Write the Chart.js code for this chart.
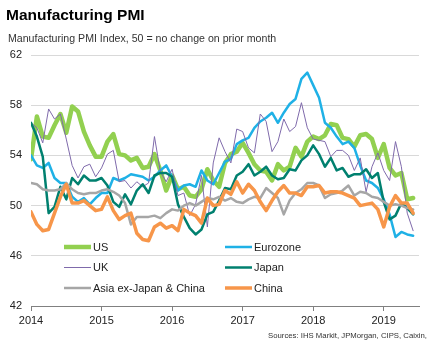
<!DOCTYPE html>
<html lang="en">
<head>
  <meta charset="UTF-8">
  <title>Manufacturing PMI</title>
  <script src="https://cdn.jsdelivr.net/npm/chart.js"></script>
  <style>
    body { margin: 0; background: #fff; font-family: "Liberation Sans", Arial, sans-serif; }
    #wrap { position: relative; width: 435px; height: 346px; }
    #title { position: absolute; left: 6px; top: 6px; font-size: 15.5px; font-weight: bold; color: #000; }
    #subtitle { position: absolute; left: 8px; top: 32px; font-size: 10.6px; color: #333; }
    #source { position: absolute; right: 8px; top: 331px; font-size: 7.75px; color: #333; }
    canvas { position: absolute; left: 0; top: 0; }
  </style>
</head>
<body>
  <div id="wrap">
    <canvas id="pmiChart" width="435" height="346"></canvas>
    <div id="title">Manufacturing PMI</div>
    <div id="subtitle">Manufacturing PMI Index, 50 = no change on prior month</div>
    <div id="source">Sources: IHS Markit, JPMorgan, CIPS, Caixin,</div>
  </div>

  <script>
    // monthly readings, Jan 2014 - Jun 2019
    const yearLabels = ['2014', '2015', '2016', '2017', '2018', '2019'];

    const us = [53.7,57.1,55.5,55.4,56.4,57.3,55.8,57.9,57.5,55.9,54.8,53.9,
                53.9,55.1,55.7,54.1,54.0,53.6,53.8,53.0,53.1,54.1,52.8,51.2,
                52.4,51.3,51.5,50.8,50.7,51.3,52.9,52.0,51.5,53.4,54.1,54.3,
                55.0,54.2,53.3,52.8,52.7,52.0,53.3,52.8,53.1,54.6,53.9,55.1,
                55.5,55.3,55.6,56.5,56.4,55.4,55.3,54.7,55.6,55.7,55.3,53.8,
                54.9,53.0,52.4,52.6,50.5,50.6];
    const eurozone = [54.0,53.2,53.0,53.4,52.2,51.8,51.8,50.7,50.3,50.6,50.1,50.6,
                51.0,51.0,52.2,52.0,52.2,52.5,52.4,52.3,52.0,52.3,52.8,53.2,
                52.3,51.2,51.6,51.7,51.5,52.8,52.0,51.7,52.6,53.5,53.7,54.9,
                55.2,55.4,56.2,56.7,57.0,57.4,56.6,57.4,58.1,58.5,60.1,60.6,
                59.6,58.6,56.6,56.2,55.5,54.9,55.1,54.6,53.2,52.0,51.8,51.4,
                50.5,49.3,47.5,47.9,47.7,47.6];
    const uk = [56.6,56.2,55.0,57.7,56.9,57.3,55.3,53.2,52.2,53.1,53.3,52.3,
                53.0,54.1,54.4,51.9,52.0,51.4,51.9,51.5,51.8,55.5,52.7,51.9,
                52.9,50.8,51.0,49.2,50.1,52.4,48.3,53.4,55.4,54.3,53.4,56.1,
                55.9,54.6,54.2,57.3,56.7,54.3,55.1,56.9,55.9,56.3,58.2,56.2,
                55.3,55.2,55.1,53.9,54.4,54.4,54.0,52.8,53.8,51.1,53.1,54.2,
                52.8,52.0,55.1,53.1,49.4,48.0];
    const japan = [56.6,55.5,53.9,49.4,49.9,51.5,50.5,52.2,51.7,52.4,52.0,52.0,
                52.2,51.6,50.3,49.9,50.9,50.1,51.2,51.7,51.0,52.4,52.6,52.6,
                52.3,50.1,49.1,48.2,47.7,48.1,49.3,49.5,50.4,51.4,51.3,52.4,
                52.7,53.3,52.4,52.7,53.1,52.4,52.1,52.2,52.9,52.8,53.6,54.0,
                54.8,54.1,53.1,53.8,52.8,53.0,52.3,52.5,52.5,52.9,52.2,52.6,
                50.3,48.9,49.2,50.2,49.8,49.3];
    const asiaExJC = [51.8,51.7,51.3,51.2,51.2,51.3,51.8,51.3,51.0,50.9,51.0,51.0,
                51.2,51.3,51.1,50.8,50.2,48.5,49.1,49.1,49.1,49.2,49.0,49.4,
                49.7,49.6,50.0,50.2,50.0,50.3,50.6,50.5,50.7,50.4,50.6,50.3,
                50.2,50.5,50.7,50.6,51.4,51.0,50.6,49.3,50.4,51.0,51.3,51.8,
                51.8,51.6,50.6,50.9,51.0,51.2,51.6,50.8,51.1,51.0,50.7,50.6,
                50.3,50.0,50.1,50.0,49.8,49.7];
    const china = [49.5,48.5,48.0,48.1,49.4,50.7,51.7,50.2,50.2,50.4,50.0,49.6,
                49.7,50.7,49.6,48.9,49.2,49.4,47.8,47.3,47.2,48.3,48.6,48.2,
                48.4,48.0,49.7,49.4,49.2,48.6,50.6,50.0,50.1,51.2,50.9,51.9,
                51.0,51.7,51.2,50.3,49.6,50.4,51.1,51.6,51.0,51.0,50.8,51.5,
                51.5,51.6,51.0,51.1,51.1,51.0,50.8,50.6,50.0,50.1,50.2,49.7,
                48.3,49.9,50.8,50.2,50.2,49.4];

    const seriesNames = ['US', 'Eurozone', 'UK', 'Japan', 'Asia ex-Japan & China', 'China'];
    const seriesData = [us, eurozone, uk, japan, asiaExJC, china];
    const seriesColors = ['#92d050', '#1fb1e6', '#7f6aab', '#00806f', '#a6a6a6', '#f7964a'];
    const seriesWidths = [4.5, 2.5, 1, 2.5, 2.5, 3.5];

    Chart.defaults.font.family = '"Liberation Sans", Arial, sans-serif';
    Chart.defaults.color = '#222';

    // legend sits inside the plot, two columns
    const insideLegend = {
      id: 'insideLegend',
      afterDatasetsDraw(chart) {
        const ctx = chart.ctx;
        ctx.save();
        ctx.font = '11px "Liberation Sans", Arial, sans-serif';
        ctx.textBaseline = 'middle';
        chart.data.datasets.forEach((ds, i) => {
          const x = i % 2 ? 225 : 64;
          const y = 247 + Math.floor(i / 2) * 20.5;
          ctx.strokeStyle = ds.borderColor;
          ctx.lineWidth = ds.borderWidth;
          ctx.beginPath();
          ctx.moveTo(x, y);
          ctx.lineTo(x + 27, y);
          ctx.stroke();
          ctx.fillStyle = '#222';
          ctx.fillText(ds.label, x + 29, y + 0.5);
        });
        ctx.restore();
      }
    };

    new Chart(document.getElementById('pmiChart'), {
      type: 'line',
      data: {
        datasets: seriesNames.map((name, i) => ({
          label: name,
          data: seriesData[i].map((v, m) => ({ x: m, y: v })),
          borderColor: seriesColors[i],
          borderWidth: seriesWidths[i],
          borderJoinStyle: 'round',
          borderCapStyle: 'round',
          pointRadius: 0,
          tension: 0,
          fill: false,
          order: seriesNames.length - i
        }))
      },
      options: {
        responsive: false,
        animation: false,
        layout: { padding: { top: 55, right: 16, bottom: 0, left: 0 } },
        plugins: { legend: { display: false }, tooltip: { enabled: false } },
        scales: {
          x: {
            type: 'linear',
            min: 0,
            max: 66,
            afterBuildTicks: scale => {
              scale.ticks = scale.ticks.filter(t => t.value % 12 === 0 && t.value <= 60);
            },
            afterFit: scale => { scale.height = 40; },
            ticks: {
              stepSize: 12,
              padding: 3,
              maxRotation: 0,
              font: { size: 11 },
              color: '#222',
              callback: v => yearLabels[v / 12]
            },
            grid: { drawOnChartArea: false, tickLength: 5, color: '#808080' },
            border: { color: '#808080', width: 1 }
          },
          y: {
            min: 42,
            max: 62,
            afterFit: scale => { scale.width = 31; },
            ticks: { stepSize: 4, padding: 9, font: { size: 11 }, color: '#222' },
            grid: { color: '#d9d9d9', tickLength: 0 },
            border: { display: false }
          }
        }
      },
      plugins: [insideLegend]
    });
  </script>
</body>
</html>
